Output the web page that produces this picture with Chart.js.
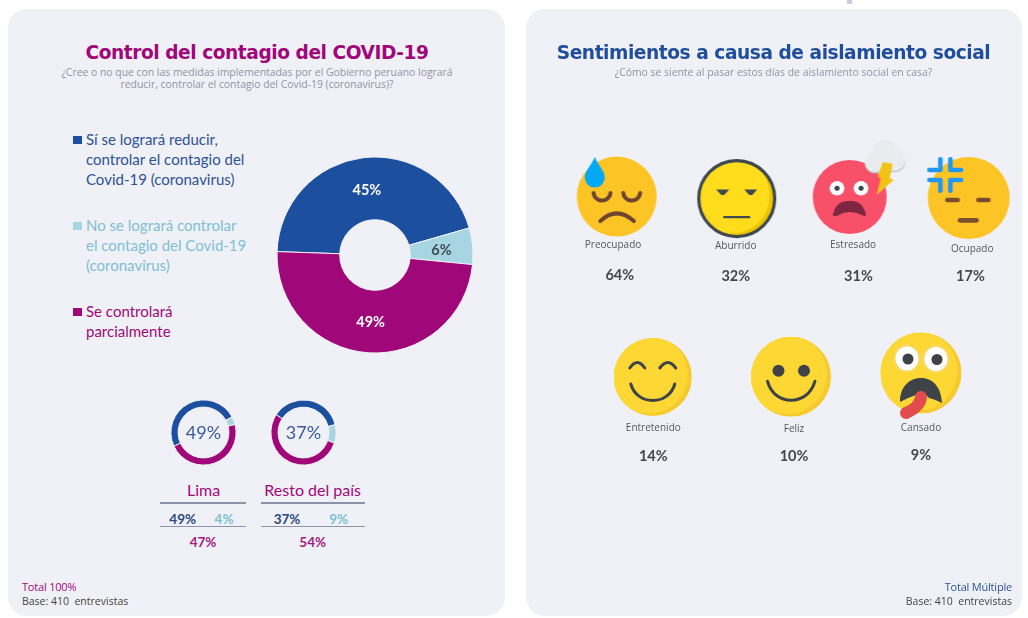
<!DOCTYPE html>
<html lang="es"><head><meta charset="utf-8">
<script src="https://cdn.jsdelivr.net/npm/chart.js@4"></script>
<style>
html,body{margin:0;padding:0;background:#fff;width:1028px;height:618px;overflow:hidden}
#page{position:absolute;left:0;top:0;width:1028px;height:618px;filter:blur(.45px)}
.card{position:absolute;top:9px;width:497px;height:607px;background:#f0f1f6;border-radius:19px}
.t{position:absolute;white-space:nowrap;line-height:1}
.c{transform:translateX(-50%);text-align:center}
.title{font:bold 18.6px "DejaVu Sans";top:41.5px;letter-spacing:-.45px}
.sub{font:10.4px "Open Sans";color:#8e94a6}
.leg{font:15px/20px Lato;white-space:nowrap;position:absolute;left:86px}
.sq{position:absolute;left:73px;width:9px;height:8px}
.rule{position:absolute;height:1.5px;background:#8d93a8}
.n{font:700 13.5px Lato}
canvas{position:absolute;display:block}
</style></head><body>
<div id="page">
<div style="position:absolute;left:847px;top:0;width:5px;height:4px;background:#c8ccdc"></div>
<div class="card" style="left:8px"></div>
<div class="card" style="left:526px;width:496px"></div>

<div class="t c title" style="left:257px;color:#a0087a">Control del contagio del COVID-19</div>
<div class="t c sub" style="left:257px;top:65px">¿Cree o no que con las medidas implementadas por el Gobierno peruano logrará</div>
<div class="t c sub" style="left:257px;top:77px">reducir, controlar el contagio del Covid-19 (coronavirus)?</div>
<div class="t c title" style="left:773.5px;color:#1f4e9c">Sentimientos a causa de aislamiento social</div>
<div class="t c sub" style="left:773.5px;top:65px">¿Cómo se siente al pasar estos días de aislamiento social en casa?</div>

<div id="legend"></div>
<canvas id="main" style="left:270px;top:150px"></canvas>
<canvas id="lima" style="left:163px;top:392px"></canvas>
<canvas id="resto" style="left:263px;top:392px"></canvas>

<div class="t c" style="left:203.5px;top:479.5px;font:16px Lato;color:#a0087a">Lima</div>
<div class="t c" style="left:312.7px;top:479.5px;font:16px Lato;color:#a0087a">Resto del país</div>
<div class="rule" style="left:160px;width:86px;top:502px"></div>
<div class="rule" style="left:160px;width:86px;top:525.5px"></div>
<div class="rule" style="left:261px;width:104px;top:502px"></div>
<div class="rule" style="left:261px;width:104px;top:525.5px"></div>
<div id="tables"></div>

<div class="t" style="left:22px;top:578.5px;font:11px 'Open Sans';color:#a0087a;letter-spacing:-.2px">Total 100%</div>
<div class="t" style="left:22px;top:593.5px;font:10.5px 'Open Sans';color:#444;white-space:pre">Base: 410  entrevistas</div>
<div class="t" style="right:16px;top:578.5px;font:11px 'Open Sans';color:#2c5297;letter-spacing:-.2px">Total Múltiple</div>
<div class="t" style="right:16px;top:593.5px;font:10.5px 'Open Sans';color:#444;white-space:pre">Base: 410  entrevistas</div>

<canvas id="row1" style="left:558px;top:107px"></canvas>
<canvas id="row2" style="left:586px;top:286px"></canvas>
</div>
<script>
// ---------- data ----------
const answerLabels = ['Sí se logrará reducir, controlar el contagio del Covid-19 (coronavirus)',
  'No se logrará controlar el contagio del Covid-19 (coronavirus)', 'Se controlará parcialmente'];
const totalValues = [45, 6, 49];
const limaValues = [49, 4, 47];
const restoValues = [37, 9, 54];
const feelingsRow1 = ['Preocupado', 'Aburrido', 'Estresado', 'Ocupado'];
const valuesRow1 = [64, 32, 31, 17];
const feelingsRow2 = ['Entretenido', 'Feliz', 'Cansado'];
const valuesRow2 = [14, 10, 9];

// ---------- styles ----------
const sliceColors = ['#1d4f9f', '#a8d5e2', '#a0087a'];
const legendTextColors = ['#2c5297', '#7dbfd3', '#a0087a'];
const legendLines = [['Sí se logrará reducir,', 'controlar el contagio del', 'Covid-19 (coronavirus)'],
  ['No se logrará controlar', 'el contagio del Covid-19', '(coronavirus)'], ['Se controlará', 'parcialmente']];
const legendTops = [129, 215, 301];
const cardBg = '#f0f1f6';

const legend = document.getElementById('legend');
legendLines.forEach((lines, i) => {
  legend.insertAdjacentHTML('beforeend',
    `<div class="sq" style="top:${legendTops[i] + 7}px;background:${sliceColors[i]}"></div>` +
    `<div class="leg" style="top:${legendTops[i]}px;color:${legendTextColors[i]}">${lines.join('<br>')}</div>`);
});

const tables = document.getElementById('tables');
function tableRow(vals, xs) {
  const fmt = (v, x, top, col) => `<div class="t c n" style="left:${x}px;top:${top}px;color:${col}">${v}%</div>`;
  tables.insertAdjacentHTML('beforeend',
    fmt(vals[0], xs[0], 511, '#2a4a80') + fmt(vals[1], xs[1], 511, '#7dbfd3') + fmt(vals[2], xs[2], 534, '#a0207f'));
}
tableRow(limaValues, [182.7, 224, 203]);
tableRow(restoValues, [287, 338.7, 312.7]);

Chart.defaults.animation = false;
Chart.defaults.responsive = false;

function ringOptions(radius, cutout, rotation) {
  return { responsive: false, animation: false, radius, cutout, rotation,
    layout: { padding: 0, autoPadding: false }, plugins: { legend: { display: false }, tooltip: { enabled: false } } };
}
const sliceLabels = { id: 'sliceLabels', afterDatasetsDraw(chart) {
  const { ctx } = chart; const values = chart.data.datasets[0].data;
  ctx.save(); ctx.font = '700 14.5px Lato'; ctx.textAlign = 'center'; ctx.textBaseline = 'middle';
  chart.getDatasetMeta(0).data.forEach((el, i) => {
    const p = el.tooltipPosition();
    ctx.fillStyle = i === 1 ? '#3f4c55' : '#ffffff';
    ctx.fillText(values[i] + '%', p.x, p.y + 1);
  });
  ctx.restore();
}};
const centerLabel = { id: 'centerLabel', afterDatasetsDraw(chart) {
  const { ctx } = chart; const el = chart.getDatasetMeta(0).data[0];
  ctx.save(); ctx.font = '18px Lato'; ctx.fillStyle = '#3d5a9e';
  ctx.textAlign = 'center'; ctx.textBaseline = 'middle';
  ctx.fillText(chart.data.datasets[0].data[0] + '%', el.x, el.y + .5);
  ctx.restore();
}};
function ring(id, w, h, values, borderWidth, opts, plugin) {
  const cv = document.getElementById(id); cv.width = w; cv.height = h;
  new Chart(cv, { type: 'doughnut',
    data: { labels: answerLabels, datasets: [{ data: values, backgroundColor: sliceColors, borderColor: cardBg, borderWidth }] },
    options: opts, plugins: [plugin] });
}
ring('main', 210, 210, totalValues, 1, ringOptions(98, '36%', 272), sliceLabels);
ring('lima', 81, 81, limaValues, 1, ringOptions(32.6, '78%', 245), centerLabel);
ring('resto', 81, 81, restoValues, 1, ringOptions(32.6, '78%', 303), centerLabel);

// ---------- emoji pictograms (used as Chart.js point images) ----------
const S = 150;
function sprite(nudge, paint) {
  const c = document.createElement('canvas'); c.width = S; c.height = S;
  const g = c.getContext('2d');
  g.translate(S / 2 + nudge[0], S / 2 + nudge[1]); g.lineCap = 'round'; g.lineJoin = 'round';
  paint(g); return c;
}
function disc(g, x, y, r, col) { g.fillStyle = col; g.beginPath(); g.arc(x, y, r, 0, 7); g.fill(); }
function crescent(g, r, light, dark, off) {
  g.save(); g.beginPath(); g.arc(0, 0, r, 0, 7); g.clip();
  g.fillStyle = dark; g.fillRect(-r, -r, 2 * r, 2 * r);
  disc(g, -off, -off * .6, r, light); g.restore();
}
function stroke(g, col, w, path) { g.strokeStyle = col; g.lineWidth = w; g.beginPath(); path(); g.stroke(); }
const emojiPainters = {
  Preocupado(g) {
    disc(g, 0, 0, 40, '#fdc426');
    const b = '#6d4530';
    stroke(g, b, 4, () => { g.arc(-14.7, -4.5, 8.5, .1, Math.PI - .1); });
    stroke(g, b, 4, () => { g.arc(15, -4.5, 8.5, .1, Math.PI - .1); });
    stroke(g, b, 4, () => { g.moveTo(-16.5, 24.5); g.quadraticCurveTo(0, 9, 17, 24.5); });
    g.fillStyle = '#03a9f4'; g.beginPath(); g.moveTo(-22, -39.5);
    g.bezierCurveTo(-26, -30, -32, -26, -32, -19); g.arc(-22, -19, 10, Math.PI, 0, true);
    g.bezierCurveTo(-12, -26, -18, -30, -22, -39.5); g.fill();
  },
  Aburrido(g) {
    crescent(g, 38, '#ffdc1c', '#eec400', 5);
    stroke(g, '#3f4a50', 3.2, () => { g.arc(0, 0, 38, 0, 7); });
    g.fillStyle = '#3f4a50';
    [-14, 14].forEach(x => { g.beginPath(); g.moveTo(x - 6.5, -9); g.lineTo(x + 6.5, -9); g.lineTo(x + 1.5, -3.5); g.lineTo(x - 1.5, -3.5); g.fill(); });
    stroke(g, '#3f4a50', 2.4, () => { g.moveTo(-12.5, 18.5); g.lineTo(12.5, 18.5); });
  },
  Estresado(g) {
    disc(g, 0, 0, 37, '#f9506a');
    [-12.7, 11.3].forEach(x => { disc(g, x, -8.7, 7.3, '#fff'); disc(g, x, -8.7, 2.5, '#33424f'); });
    g.fillStyle = '#7d2740'; g.beginPath(); g.moveTo(-17, 18);
    g.bezierCurveTo(-14, 6, -8, 4, 0, 4); g.bezierCurveTo(8, 4, 13, 6, 16.3, 17.5);
    g.quadraticCurveTo(16, 20, 12, 18); g.quadraticCurveTo(0, 12, -12, 18.5); g.quadraticCurveTo(-16, 20, -17, 18); g.fill();
    [[35, -43.5, 12.5], [25, -33.5, 10], [45, -35.5, 10.7], [35, -33, 11]].forEach(d => disc(g, d[0], d[1], d[2], '#c3c7c9'));
    [[35, -45, 12.5], [25, -35, 10], [45, -37, 10.7], [35, -35, 11]].forEach(d => disc(g, d[0], d[1], d[2], '#e9ecee'));
    g.fillStyle = '#f2c314'; g.beginPath();
    [[33, -35], [43, -33], [40, -19], [44, -17], [27, -2], [31, -19], [28, -20]].forEach((p, i) => i ? g.lineTo(p[0], p[1]) : g.moveTo(p[0], p[1]));
    g.closePath(); g.fill();
  },
  Ocupado(g) {
    disc(g, 0, 0, 41, '#fdc426');
    const q = (x, y) => [(x - 567) / 3, (y - 234) / 3];
    const seg = (col, w, a, b) => stroke(g, col, w, () => { const p = q(a[0], a[1]), r = q(b[0], b[1]); g.moveTo(p[0], p[1]); g.lineTo(r[0], r[1]); });
    const bl = '#2196f3';
    [[[482, 118], [482, 150], [449, 150]], [[512, 118], [512, 150], [544, 150]],
     [[482, 212], [482, 180], [449, 180]], [[512, 212], [512, 180], [544, 180]]].forEach(l => {
      stroke(g, bl, 4.6, () => { l.forEach((pt, i) => { const p = q(pt[0], pt[1]); i ? g.lineTo(p[0], p[1]) : g.moveTo(p[0], p[1]); }); });
    });
    const br = '#7a4f2e';
    seg(br, 4.6, [503, 240], [534, 240]); seg(br, 4.6, [596, 240], [626, 240]); seg(br, 4.8, [541, 301], [590, 301]);
  },
  Entretenido(g) {
    crescent(g, 39, '#fdd835', '#f6c92d', 4);
    const d = '#3d4347';
    stroke(g, d, 3, () => { g.moveTo(-23, -9); g.quadraticCurveTo(-15.5, -20, -8, -9); });
    stroke(g, d, 3, () => { g.moveTo(7, -9); g.quadraticCurveTo(15, -20, 23, -9); });
    stroke(g, d, 3, () => { g.moveTo(-22, 7); g.bezierCurveTo(-16, 29, 16, 29, 22, 7); });
  },
  Feliz(g) {
    crescent(g, 40, '#fdd835', '#f6c92d', 4);
    const d = '#3d4347';
    disc(g, -12.5, -6, 6, d); disc(g, 13, -6, 6, d);
    stroke(g, d, 3, () => { g.moveTo(-23.5, 4.5); g.bezierCurveTo(-17, 30, 17, 30, 24, 4.5); });
  },
  Cansado(g) {
    crescent(g, 40.5, '#fdd835', '#f6c92d', 4);
    const d = '#3d4347';
    [[-14, -14.5], [15, -14]].forEach(p => {
      g.fillStyle = '#f7d76a'; g.beginPath(); g.ellipse(p[0], p[1], 13.5, 14, 0, 0, 7); g.fill();
      g.fillStyle = '#fff'; g.beginPath(); g.ellipse(p[0], p[1], 11.5, 12, 0, 0, 7); g.fill();
      disc(g, p[0] + 1, p[1] + .5, 5.5, d);
    });
    g.fillStyle = d; g.beginPath(); g.moveTo(-21, 29);
    g.bezierCurveTo(-21, 12, -10, 5, 0, 5); g.bezierCurveTo(12, 5, 20, 14, 21, 30);
    g.quadraticCurveTo(13, 26, 8, 25); g.quadraticCurveTo(0, 17, -5, 22); g.quadraticCurveTo(-14, 25, -21, 29); g.fill();
    stroke(g, '#e24c4f', 12, () => { g.moveTo(0, 24); g.quadraticCurveTo(-1, 34, -15, 40); });
  }
};

// layout offsets of the pictures and captions relative to each category centre
const row1Sprites = [[0, -.4], [2.5, 1.6], [-2, 0], [-.5, 1]];
const row2Sprites = [[-.2, 1], [4, .7], [0, -3]];
const row1Caption = [[-3.7, 48, 78], [1.5, 49.4, 79], [1.3, 48.4, 79], [3, 51.7, 79]];
const row2Caption = [[.3, 52, 80.7], [7, 53.4, 80], [0, 52, 79.4]];

const captions = { id: 'captions', afterDatasetsDraw(chart, args, o) {
  const { ctx } = chart; const x = chart.scales.x;
  const midY = (chart.chartArea.top + chart.chartArea.bottom) / 2;
  const vals = chart.data.datasets[0].data;
  ctx.save(); ctx.textAlign = 'center'; ctx.textBaseline = 'middle';
  chart.data.labels.forEach((lab, i) => {
    const c = o.layout[i]; const px = x.getPixelForValue(i);
    ctx.font = '10px "Open Sans"'; ctx.fillStyle = '#56585f';
    ctx.fillText(lab, px + c[0], midY + c[1]);
    ctx.font = '700 14.5px Lato'; ctx.fillStyle = '#45474c';
    ctx.fillText(vals[i] + '%', px + (o.pctDx[i] || 0), midY + c[2]);
  });
  ctx.restore();
}};
function emojiRow(id, w, h, labels, values, nudges, layout, pctDx) {
  const cv = document.getElementById(id); cv.width = w; cv.height = h;
  new Chart(cv, { type: 'line',
    data: { labels, datasets: [{ data: values, showLine: false, clip: false,
      pointStyle: labels.map((l, i) => sprite(nudges[i], emojiPainters[l])) }] },
    options: { responsive: false, animation: false, layout: { padding: 0, autoPadding: false },
      scales: { x: { display: false, offset: true }, y: { display: false, min: -1e6, max: 1e6 } },
      plugins: { legend: { display: false }, tooltip: { enabled: false }, captions: { layout, pctDx } } },
    plugins: [captions] });
}
emojiRow('row1', 470, 180, feelingsRow1, valuesRow1, row1Sprites, row1Caption, [3, 1.5, 6.7, 1.2]);
emojiRow('row2', 402, 180, feelingsRow2, valuesRow2, row2Sprites, row2Caption, [.3, 7, 0]);
</script>
</body></html>
